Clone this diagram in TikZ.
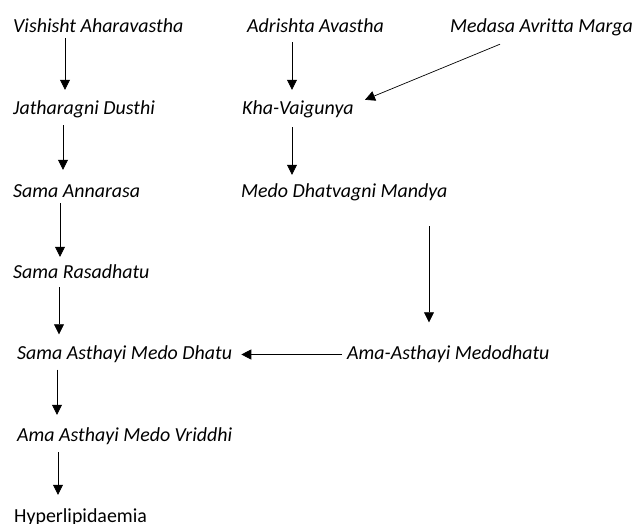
\documentclass[tikz,border=0pt]{standalone}
\usepackage{fontspec}
\setmainfont{Carlito}[Ligatures=NoCommon]
\usetikzlibrary{arrows.meta}
\tikzset{
  lbl/.style={anchor=base west, inner sep=0pt, text height=14pt, text depth=4pt,
    font=\fontsize{19.9}{22}\selectfont\itshape},
  lblup/.style={lbl, font=\fontsize{19.9}{22}\selectfont},
  arr/.style={draw=black, line width=0.7pt, -{Triangle[length=10pt,width=10pt]}}
}
\begin{document}
\begin{tikzpicture}[x=1pt,y=-1pt]
\useasboundingbox (0,0) rectangle (635,524);
\node[lbl] (vish) at (13,33) {Vishisht Aharavastha};
\node[lbl] (adri) at (247,33) {Adrishta Avastha};
\node[lbl] (meda) at (450,33) {Medasa Avritta Marga};
\node[lbl] (jath) at (13,115) {Jatharagni Dusthi};
\node[lbl] (kha) at (242,115) {Kha-Vaigunya};
\node[lbl] (ann) at (13,197) {Sama Annarasa};
\node[lbl] (medo) at (241,197) {Medo Dhatvagni Mandya};
\node[lbl] (ras) at (13,278) {Sama Rasadhatu};
\node[lbl] (sad) at (17,359.5) {Sama Asthayi Medo Dhatu};
\node[lbl] (amd) at (347,359.5) {Ama-Asthayi Medodhatu};
\node[lbl] (avr) at (17,441) {Ama Asthayi Medo Vriddhi};
\node[lblup] (hyp) at (14,522) {Hyperlipidaemia};

\draw[arr] ([xshift=52pt,yshift=-1pt]vish.south west) -- ([xshift=52pt,yshift=11pt]jath.north west);
\draw[arr] ([xshift=45pt,yshift=-5pt]adri.south west) -- ([xshift=50pt,yshift=11pt]kha.north west);
\draw[arr] ([xshift=50pt,yshift=-7pt]meda.south west) -- ([xshift=123pt,yshift=1pt]kha.north west);
\draw[arr] ([xshift=50pt,yshift=-6pt]jath.south west) -- ([xshift=50pt,yshift=13pt]ann.north west);
\draw[arr] ([xshift=50pt,yshift=-8pt]kha.south west) -- ([xshift=51pt,yshift=8pt]medo.north west);
\draw[arr] ([xshift=47pt,yshift=-2pt]ann.south west) -- ([xshift=47pt,yshift=7pt]ras.north west);
\draw[arr] ([xshift=46pt,yshift=-5pt]ras.south west) -- ([xshift=42pt,yshift=11pt]sad.north west);
\draw[arr] ([xshift=188pt,yshift=-25pt]medo.south west) -- ([xshift=82pt,yshift=23pt]amd.north west);
\draw[arr] ([xshift=-5pt]amd.west) -- ([xshift=9pt]sad.east);
\draw[arr] ([xshift=40pt,yshift=-6pt]sad.south west) -- ([xshift=40pt,yshift=12pt]avr.north west);
\draw[arr] ([xshift=41pt,yshift=-7pt]avr.south west) -- ([xshift=44pt,yshift=13pt]hyp.north west);
\end{tikzpicture}
\end{document}
